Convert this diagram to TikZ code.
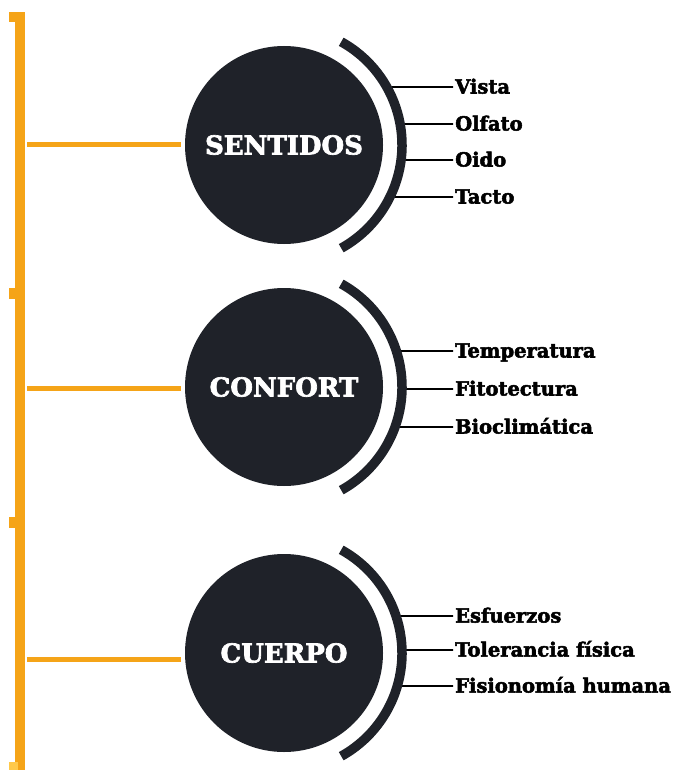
\documentclass[tikz,border=0pt]{standalone}
\usepackage{fontspec}
\setmainfont{DejaVu Serif}[BoldFeatures={FakeBold=2.6}]
\usetikzlibrary{calc}

\definecolor{barorange}{HTML}{F5A418}
\definecolor{tabyellow}{HTML}{FFC94A}
\definecolor{circledark}{HTML}{1F2229}

\tikzset{
  topic/.style={circle, fill=circledark, minimum size=198pt, inner sep=0pt,
    text=white, font=\bfseries\fontsize{26}{26}\selectfont},
  rim/.style={circledark, line width=9.5pt},
  item/.style={anchor=west, inner sep=2pt, text height=13pt, text depth=0pt,
    font=\bfseries\fontsize{19.5}{19.5}\selectfont},
  branch/.style={black, line width=1.8pt},
  link/.style={barorange, line width=5pt, shorten >=4pt},
}

\begin{document}
\begin{tikzpicture}[x=1pt,y=-1pt]
\useasboundingbox (0,0) rectangle (673,770);
% Orange bar
\fill[barorange] (15,12) rectangle (25,770);
\fill[barorange] (9,12) rectangle (15,22);
\fill[barorange] (9,288) rectangle (15,299);
\fill[barorange] (9,517) rectangle (15,528);
\fill[tabyellow] (9,762) rectangle (18,770);
% Circles
\node[topic] (sentidos) at (284,145) {SENTIDOS};
\node[topic] (confort) at (284,387) {CONFORT};
\node[topic] (cuerpo) at (284,653) {CUERPO};
% Links from the bar
\coordinate (bar1) at (27,145);
\coordinate (bar2) at (27,388);
\coordinate (bar3) at (27,659);
\draw[link] (bar1) -- (sentidos.west |- bar1);
\draw[link] (bar2) -- (confort.west |- bar2);
\draw[link] (bar3) -- (cuerpo.west |- bar3);
% Items of SENTIDOS
\foreach \name/\py/\txt in {vista/87/Vista, olfato/124/Olfato, oido/160/Oido, tacto/197/Tacto} {
  \node[item] (\name) at (453,\py) {\txt};
  \coordinate (\name-rim) at ($(sentidos.center)+({asin((\py-145)/118)}:118)$);
  \draw[branch] (\name-rim) -- (\name.west);
}
% Items of CONFORT
\foreach \name/\py/\txt in {temperatura/351/Temperatura, fitotectura/389/Fitotectura, bioclimatica/427/Bioclimática} {
  \node[item] (\name) at (453,\py) {\txt};
  \coordinate (\name-rim) at ($(confort.center)+({asin((\py-387)/118)}:118)$);
  \draw[branch] (\name-rim) -- (\name.west);
}
% Items of CUERPO
\foreach \name/\py/\txt in {esfuerzos/616/Esfuerzos, tolerancia/650/Tolerancia física, fisionomia/686/Fisionomía humana} {
  \node[item] (\name) at (453,\py) {\txt};
  \coordinate (\name-rim) at ($(cuerpo.center)+({asin((\py-653)/118)}:118)$);
  \draw[branch] (\name-rim) -- (\name.west);
}
% Arcs
\draw[rim] ($(sentidos.center)+(-61:118)$) arc[start angle=-61, end angle=61, radius=118];
\draw[rim] ($(confort.center)+(-61:118)$) arc[start angle=-61, end angle=61, radius=118];
\draw[rim] ($(cuerpo.center)+(-61:118)$) arc[start angle=-61, end angle=61, radius=118];
\end{tikzpicture}
\end{document}
